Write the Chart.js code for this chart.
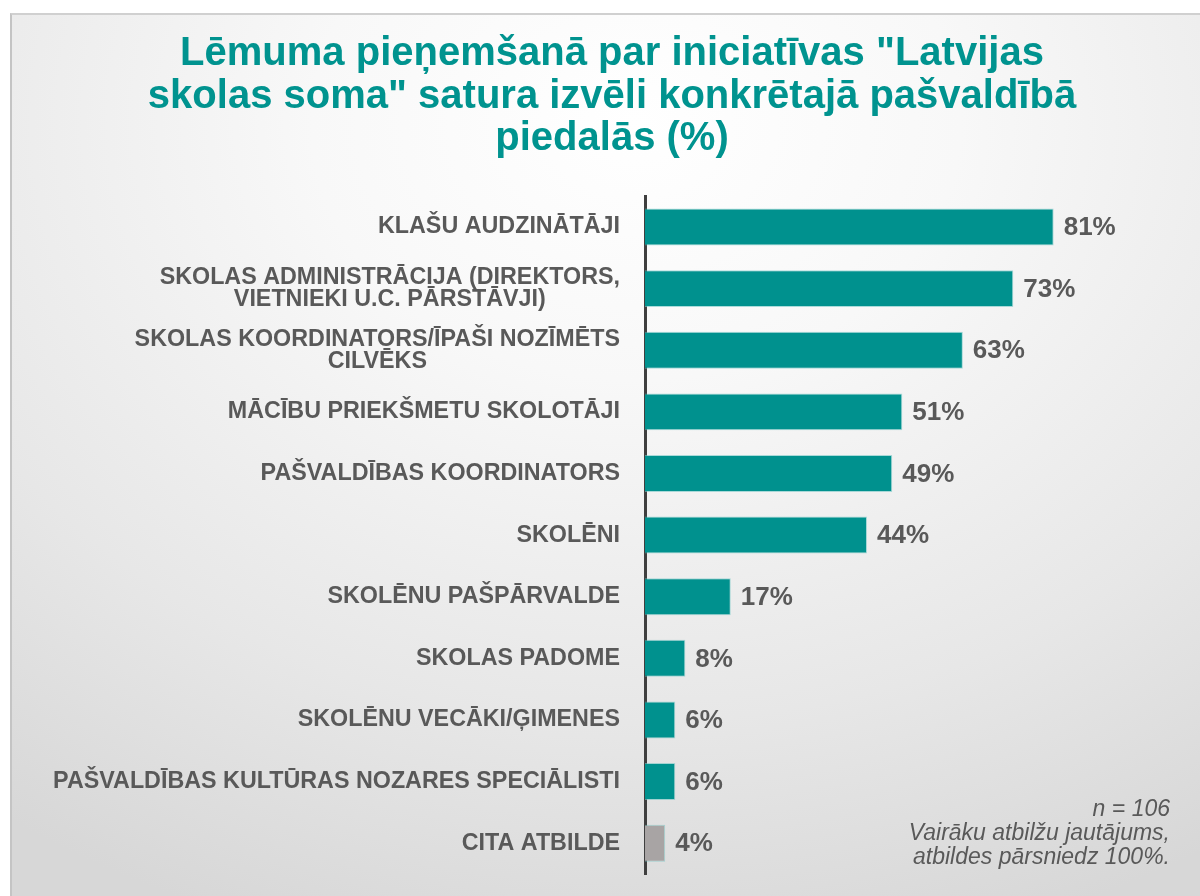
<!DOCTYPE html>
<html lang="lv">
<head>
<meta charset="utf-8">
<script src="https://cdn.jsdelivr.net/npm/chart.js@4.4.1/dist/chart.umd.min.js"></script>
<style>
  html, body { margin: 0; padding: 0; background: #fff; }
  body { width: 1200px; height: 896px; position: relative; overflow: hidden; }
  #frame {
    position: absolute; left: 10px; top: 13px; width: 1200px; height: 900px;
    border-left: 2px solid #c4c4c4; border-top: 2px solid #d0d0d0;
    background: radial-gradient(ellipse 90% 95% at 52% 12%, #ffffff 0%, #f8f8f8 30%, #e7e7e7 70%, #d7d7d7 100%);
  }
  #wrap { position: absolute; left: 0; top: 0; width: 1200px; height: 896px; }
</style>
</head>
<body>
<div id="frame"></div>
<div id="wrap"><canvas id="myChart" width="1200" height="896"></canvas></div>
<script>
// dati
const categories = [
    'KLAŠU AUDZINĀTĀJI',
    ['SKOLAS ADMINISTRĀCIJA (DIREKTORS,', 'VIETNIEKI U.C. PĀRSTĀVJI)'],
    ['SKOLAS KOORDINATORS/ĪPAŠI NOZĪMĒTS', 'CILVĒKS'],
    'MĀCĪBU PRIEKŠMETU SKOLOTĀJI',
    'PAŠVALDĪBAS KOORDINATORS',
    'SKOLĒNI',
    'SKOLĒNU PAŠPĀRVALDE',
    'SKOLAS PADOME',
    'SKOLĒNU VECĀKI/ĢIMENES',
    'PAŠVALDĪBAS KULTŪRAS NOZARES SPECIĀLISTI',
    'CITA ATBILDE'
];
const values = [81, 73, 63, 51, 49, 44, 17, 8, 6, 6, 4];
const barColors = ['#00918E', '#00918E', '#00918E', '#00918E', '#00918E', '#00918E',
                   '#00918E', '#00918E', '#00918E', '#00918E', '#A8A4A4'];
const titleLines = ['Lēmuma pieņemšanā par iniciatīvas "Latvijas', 'skolas soma" satura izvēli konkrētajā pašvaldībā', 'piedalās (%)'];
const noteLines = ['n = 106', 'Vairāku atbilžu jautājums,', 'atbildes pārsniedz 100%.'];

const textGray = '#595959';

// kategoriju nosaukumi, vērtības un piezīme
const labelsPlugin = {
    id: 'labelsPlugin',
    afterDatasetsDraw(chart) {
        const ctx = chart.ctx;
        const y = chart.scales.y;
        const x = chart.scales.x;
        ctx.save();
        ctx.fillStyle = textGray;
        ctx.textBaseline = 'middle';

        // nosaukumi pa kreisi no ass
        ctx.font = 'bold 23.3px "Liberation Sans", Arial, sans-serif';
        const rightEdge = 620;
        const lh = 22;
        categories.forEach((lab, i) => {
            const lines = Array.isArray(lab) ? lab : [lab];
            const cy = y.getPixelForValue(i);
            const maxW = Math.max(...lines.map(l => ctx.measureText(l).width));
            const cx = rightEdge - maxW / 2;
            ctx.textAlign = 'center';
            lines.forEach((l, k) => {
                ctx.fillText(l, cx, cy + (k - (lines.length - 1) / 2) * lh);
            });
        });

        // vērtības aiz stabiņiem
        ctx.font = 'bold 26px "Liberation Sans", Arial, sans-serif';
        ctx.textAlign = 'left';
        const meta = chart.getDatasetMeta(0);
        meta.data.forEach((bar, i) => {
            ctx.fillText(values[i] + '%', x.getPixelForValue(values[i]) + 10, bar.y + 1);
        });

        // piezīme
        ctx.font = 'italic 23px "Liberation Sans", Arial, sans-serif';
        ctx.textAlign = 'right';
        ctx.textBaseline = 'alphabetic';
        noteLines.forEach((l, k) => {
            ctx.fillText(l, 1170, 816 + k * 24);
        });
        ctx.restore();
    }
};

const ctx = document.getElementById('myChart').getContext('2d');
new Chart(ctx, {
    type: 'bar',
    data: {
        labels: categories,
        datasets: [{
            data: values,
            backgroundColor: barColors,
            borderColor: 'rgba(120, 200, 198, 0.6)',
            borderWidth: 1,
            borderSkipped: 'start',
            barPercentage: 0.6,
            categoryPercentage: 1.0
        }]
    },
    options: {
        indexAxis: 'y',
        responsive: false,
        animation: false,
        layout: { padding: { left: 24, right: 0, top: 0, bottom: 22 } },
        scales: {
            x: {
                display: false,
                min: 0,
                max: 110
            },
            y: {
                afterFit: s => { s.width = 621; },
                grid: { display: false },
                border: { display: true, color: '#3F3F3F', width: 3 },
                ticks: { display: false }
            }
        },
        plugins: {
            legend: { display: false },
            tooltip: { enabled: false },
            title: {
                display: true,
                text: titleLines,
                color: '#00938F',
                font: { family: '"Liberation Sans", Arial, sans-serif', size: 40, weight: 'bold', lineHeight: 1.06 },
                padding: { top: 33, bottom: 36 }
            }
        }
    },
    plugins: [labelsPlugin]
});
</script>
</body>
</html>
